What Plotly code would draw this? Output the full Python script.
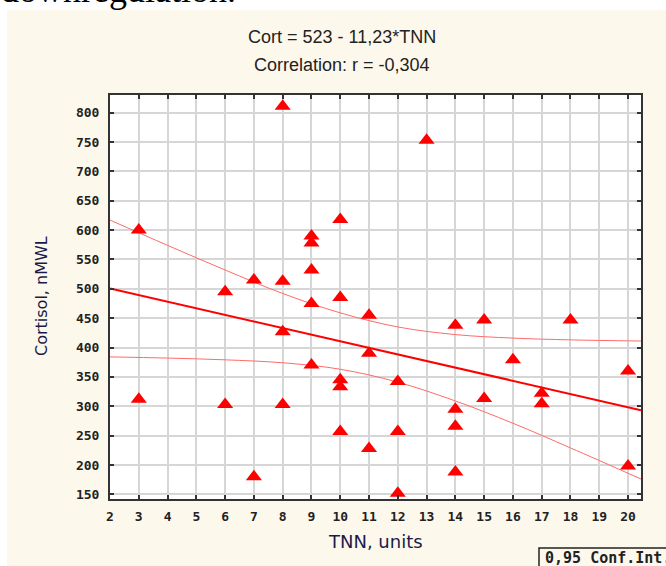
import plotly.graph_objects as go

# TNN (units) and cortisol (nM/L)
tnn = [3, 3, 6, 6, 7, 7, 8, 8, 8, 8, 9, 9, 9, 9, 9, 10, 10, 10, 10, 10,
       11, 11, 11, 12, 12, 12, 13, 14, 14, 14, 14, 15, 15, 16, 17, 17, 18, 20, 20]
cort = [600, 312, 495, 303, 515, 180, 811, 513, 427, 303, 590, 578, 532, 475, 370,
        618, 485, 345, 333, 257, 455, 390, 228, 342, 257, 152, 753, 438, 295, 266,
        188, 447, 313, 379, 322, 304, 447, 360, 198]

# regression line end points (Cort = 523 - 11,23*TNN)
fit_x = [2, 20.45]
fit_y = [500.5, 293.3]

# 0,95 confidence band
band_x = [2, 4, 6, 8, 10, 12, 14, 16, 18, 20.45]
band_upper = [617, 574, 532, 492, 459, 435, 422, 416, 413, 411]
band_lower = [384, 382, 379, 374, 363, 341, 309, 271, 229, 176]

W, H = 666, 566
L, R, T, B = 110, 25, 95, 67
pw, ph = W - L - R, H - T - B


def px(x):
    return (x - L) / pw


def py(y):
    return (H - B - y) / ph


red = '#ff0000'
band_col = '#ff6a6a'

fig = go.Figure()
fig.add_trace(go.Scatter(x=band_x, y=band_upper, mode='lines',
                         line=dict(color=band_col, width=1, shape='spline')))
fig.add_trace(go.Scatter(x=band_x, y=band_lower, mode='lines',
                         line=dict(color=band_col, width=1, shape='spline')))
fig.add_trace(go.Scatter(x=fit_x, y=fit_y, mode='lines', line=dict(color=red, width=2)))
fig.add_trace(go.Scatter(x=tnn, y=cort, mode='markers',
                         marker=dict(symbol='triangle-up', size=14, color=red, line=dict(width=0))))

tickfont = dict(family='DejaVu Sans Mono', size=13, color='#222222', weight='bold')
fig.update_xaxes(range=[2, 20.45], tickmode='linear', tick0=2, dtick=1,
                 showgrid=True, gridcolor='#d6d6d6', gridwidth=1.5,
                 showline=True, linecolor='#333333', linewidth=2, mirror='ticks',
                 ticks='inside', ticklen=4, tickcolor='#333333', tickwidth=1.5,
                 tickfont=tickfont, ticklabelstandoff=4, zeroline=False)
fig.update_yaxes(range=[142, 830], tickmode='linear', tick0=150, dtick=50,
                 showgrid=True, gridcolor='#d6d6d6', gridwidth=1.5,
                 showline=True, linecolor='#333333', linewidth=2, mirror='ticks',
                 ticks='inside', ticklen=4, tickcolor='#333333', tickwidth=1.5,
                 tickfont=tickfont, ticklabelstandoff=6, zeroline=False)

cream = '#fdf8ec'
fig.update_layout(
    width=W, height=H, margin=dict(l=L, r=R, t=T, b=B),
    paper_bgcolor=cream, plot_bgcolor='white', showlegend=False,
    shapes=[
        # white strips of the document page around the chart panel
        dict(type='rect', xref='paper', yref='paper', x0=px(-5), x1=px(W + 5),
             y0=py(10), y1=py(-5), fillcolor='white', line=dict(width=0), layer='below'),
        dict(type='rect', xref='paper', yref='paper', x0=px(-5), x1=px(7),
             y0=py(H + 5), y1=py(-5), fillcolor='white', line=dict(width=0), layer='below'),
        # legend box
        dict(type='rect', xref='paper', yref='paper', x0=px(539), x1=px(W + 10),
             y0=py(H + 10), y1=py(548), line=dict(color='#222222', width=1.5)),
    ],
    annotations=[
        dict(text='downregulation.', xref='paper', yref='paper', x=px(-1), y=py(12),
             xanchor='left', yanchor='bottom', showarrow=False,
             font=dict(family='Liberation Serif', size=36, color='black')),
        dict(text='Cort = 523 - 11,23*TNN', xref='paper', yref='paper', x=px(342), y=py(37),
             xanchor='center', yanchor='middle', showarrow=False,
             font=dict(family='Liberation Sans', size=18, color='#222222')),
        dict(text='Correlation: r = -0,304', xref='paper', yref='paper', x=px(342), y=py(65),
             xanchor='center', yanchor='middle', showarrow=False,
             font=dict(family='Liberation Sans', size=18, color='#222222')),
        dict(text='Cortisol, nMWL', xref='paper', yref='paper', x=px(41), y=py(296),
             xanchor='center', yanchor='middle', showarrow=False, textangle=-90,
             font=dict(family='DejaVu Sans', size=16, color='#1b1b4a')),
        dict(text='TNN, units', xref='paper', yref='paper', x=px(375), y=py(541),
             xanchor='center', yanchor='middle', showarrow=False,
             font=dict(family='DejaVu Sans', size=18, color='#1b1b4a')),
        dict(text='0,95 Conf.Int.', xref='paper', yref='paper', x=px(543), y=py(558),
             xanchor='left', yanchor='middle', showarrow=False,
             font=dict(family='DejaVu Sans Mono', size=15, color='#222222', weight='bold')),
    ],
)

# drop the browser's default body margin so the figure sits at the page corner
fig.write_html("out.html", config={'displayModeBar': False},
               post_script="document.body.style.margin='0';")
